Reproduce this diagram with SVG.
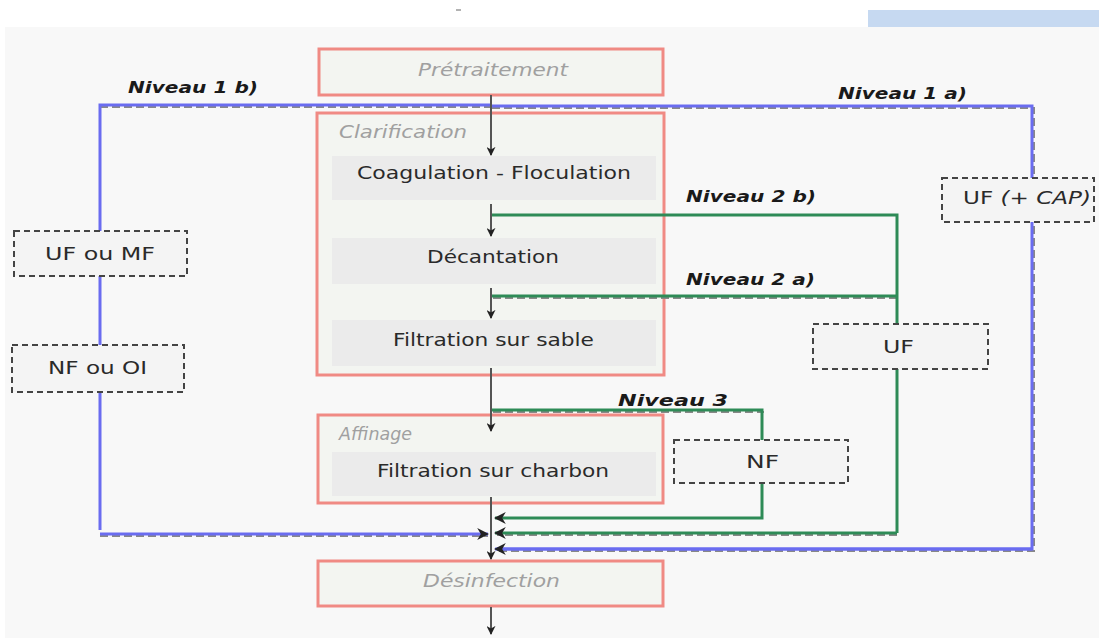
<svg xmlns="http://www.w3.org/2000/svg" width="1099" height="638" viewBox="0 0 1099 638">
<style>
.stage{fill:#f3f5f1;stroke:#f08a84;stroke-width:3}
.sub{fill:#ebebeb;stroke:none}
.opt{fill:#f4f4f4;stroke:#444;stroke-width:2;stroke-dasharray:6,4}
.t{font-family:"DejaVu Sans",Verdana,sans-serif;font-size:17px;fill:#2a2a2a}
.ti{font-family:"DejaVu Sans",Verdana,sans-serif;font-size:17px;font-style:italic;fill:#a0a0a0}
.lab{font-family:"DejaVu Sans",Verdana,sans-serif;font-size:15px;font-weight:bold;font-style:italic;fill:#1a1a1a}
.flow{stroke:#555;stroke-width:2;fill:none}
.blue{stroke:#6a6cf0;stroke-width:3;fill:none}
.green{stroke:#2e8b57;stroke-width:3;fill:none}
.shadow{stroke:#888;stroke-width:2;stroke-dasharray:8,4;fill:none}
</style>
<defs>
<marker id="ah" viewBox="0 0 10 10" refX="9" refY="5" markerWidth="9" markerHeight="9" markerUnits="userSpaceOnUse" orient="auto">
<path d="M0,0 L10,5 L0,10 L3,5 Z" fill="#222"/>
</marker>
<marker id="ahs" viewBox="0 0 10 10" refX="9" refY="5" markerWidth="12" markerHeight="12" markerUnits="userSpaceOnUse" orient="auto">
<path d="M0,0 L10,5 L0,10 L3,5 Z" fill="#222"/>
</marker>
</defs>
<rect x="0" y="0" width="1099" height="638" fill="#ffffff"/>
<rect x="5" y="27" width="1094" height="611" fill="#f8f8f8"/>
<rect x="868" y="10" width="231" height="17" fill="#c6d9f1"/>
<line x1="456" y1="10" x2="461" y2="10" stroke="#666" stroke-width="1"/>

<g id="pretraitement">
<rect class="stage" x="319" y="49" width="344" height="46"/>
<text class="ti" x="418" y="76" textLength="150" lengthAdjust="spacingAndGlyphs">Prétraitement</text>
</g>
<g id="clarification">
<rect class="stage" x="317" y="113" width="347" height="262"/>
<text class="ti" x="339" y="138" textLength="128" lengthAdjust="spacingAndGlyphs">Clarification</text>
</g>
<g id="coagulation">
<rect class="sub" x="332" y="156" width="324" height="44"/>
<text class="t" x="357" y="179" textLength="274" lengthAdjust="spacingAndGlyphs">Coagulation - Floculation</text>
</g>
<g id="decantation">
<rect class="sub" x="332" y="238" width="324" height="46"/>
<text class="t" x="427" y="263" textLength="132" lengthAdjust="spacingAndGlyphs">Décantation</text>
</g>
<g id="sable">
<rect class="sub" x="332" y="320" width="324" height="46"/>
<text class="t" x="393" y="346" textLength="201" lengthAdjust="spacingAndGlyphs">Filtration sur sable</text>
</g>
<g id="affinage">
<rect class="stage" x="318" y="415" width="345" height="88"/>
<text class="ti" x="339" y="440" font-size="16" textLength="73" lengthAdjust="spacingAndGlyphs">Affinage</text>
</g>
<g id="charbon">
<rect class="sub" x="332" y="452" width="324" height="44"/>
<text class="t" x="377" y="477" textLength="232" lengthAdjust="spacingAndGlyphs">Filtration sur charbon</text>
</g>
<g id="desinfection">
<rect class="stage" x="318" y="561" width="345" height="45"/>
<text class="ti" x="423" y="587" textLength="137" lengthAdjust="spacingAndGlyphs">Désinfection</text>
</g>

<g id="connectors">
<path class="shadow" d="M100,107 H490 M492,108 H1034 V551 H497 M100,536 H488"/>
<path class="blue" d="M100,530 V105 H491 M491,106 H1032 V549 H497"/>
<path class="blue" d="M100,534 H488" marker-end="url(#ahs)"/>
<path class="blue" d="M1032,549 H495" marker-end="url(#ahs)"/>
<path class="shadow" d="M493,298 H897"/>
<path class="green" d="M491,215 H897 V533"/>
<path class="green" d="M491,296 H897"/>
<path class="shadow" d="M897,535 H497"/>
<path class="green" d="M897,533 H495" marker-end="url(#ahs)"/>
<path class="shadow" d="M493,412 H764"/>
<path class="green" d="M491,410 H762 V518 H495" marker-end="url(#ahs)"/>
<path class="flow" d="M491,95 V155" marker-end="url(#ah)"/>
<path class="flow" d="M491,204 V236" marker-end="url(#ah)"/>
<path class="flow" d="M491,288 V318" marker-end="url(#ah)"/>
<path class="flow" d="M491,368 V431" marker-end="url(#ah)"/>
<path class="flow" d="M491,497 V559" marker-end="url(#ah)"/>
<path class="flow" d="M491,607 V634" marker-end="url(#ah)"/>
</g>

<g id="uf-mf">
<rect class="opt" x="14" y="231" width="173" height="45"/>
<text class="t" x="45" y="260" textLength="110" lengthAdjust="spacingAndGlyphs">UF ou MF</text>
</g>
<g id="nf-oi">
<rect class="opt" x="12" y="345" width="172" height="47"/>
<text class="t" x="48" y="374" textLength="99" lengthAdjust="spacingAndGlyphs">NF ou OI</text>
</g>
<g id="uf-cap">
<rect class="opt" x="942" y="178" width="152" height="44"/>
<text class="t" x="963" y="204" textLength="128" lengthAdjust="spacingAndGlyphs">UF <tspan font-style="italic">(+ CAP)</tspan></text>
</g>
<g id="uf">
<rect class="opt" x="813" y="324" width="175" height="45"/>
<text class="t" x="883" y="353" textLength="31" lengthAdjust="spacingAndGlyphs">UF</text>
</g>
<g id="nf">
<rect class="opt" x="674" y="440" width="174" height="43"/>
<text class="t" x="746" y="468" textLength="33" lengthAdjust="spacingAndGlyphs">NF</text>
</g>

<g id="labels">
<text class="lab" x="128" y="93" textLength="130" lengthAdjust="spacingAndGlyphs">Niveau 1 b)</text>
<text class="lab" x="838" y="99" textLength="129" lengthAdjust="spacingAndGlyphs">Niveau 1 a)</text>
<text class="lab" x="686" y="202" textLength="130" lengthAdjust="spacingAndGlyphs">Niveau 2 b)</text>
<text class="lab" x="686" y="285" textLength="129" lengthAdjust="spacingAndGlyphs">Niveau 2 a)</text>
<text class="lab" x="618" y="406" textLength="110" lengthAdjust="spacingAndGlyphs">Niveau 3</text>
</g>
</svg>
